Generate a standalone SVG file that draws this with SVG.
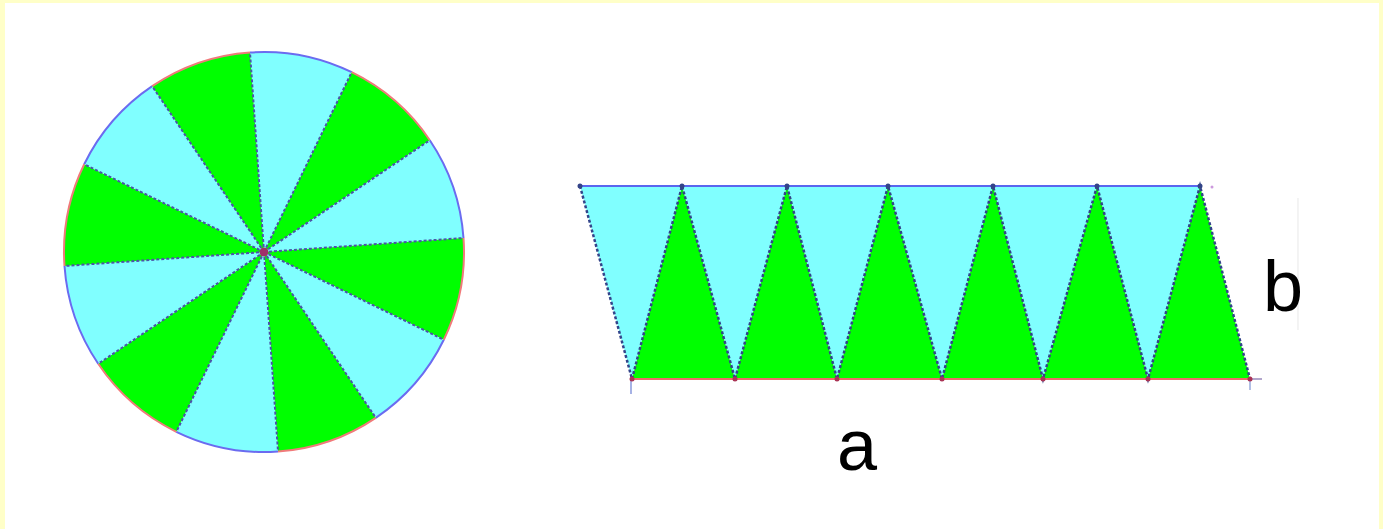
<svg xmlns="http://www.w3.org/2000/svg" width="1383" height="529" viewBox="0 0 1383 529">
<style>
.cy{fill:#80ffff}
.gr{fill:#00ff00}
.rad{stroke:#4a55a8;stroke-width:2;stroke-dasharray:3 2;fill:none}
.arcb{stroke:#6b6bf0;stroke-width:2;fill:none}
.arcr{stroke:#f07a7a;stroke-width:2;fill:none}
.edge{stroke:#33448a;stroke-width:2.5;stroke-dasharray:3 2;fill:none}
.top{stroke:#5a66ee;stroke-width:2.2;fill:none}
.bot{stroke:#ee6a6a;stroke-width:2.2;fill:none}
.lbl{font-family:"Liberation Sans",Arial,sans-serif;font-size:72px;fill:#000}
</style>
<rect x="0" y="0" width="1383" height="529" fill="#ffffc8"/>
<rect x="5" y="3" width="1374" height="526" fill="#ffffff"/>
<g id="circle">
<path class="cy" d="M264 252 L250.0 52.5 A200 200 0 0 1 351.7 72.2 Z"/>
<path class="gr" d="M264 252 L351.7 72.2 A200 200 0 0 1 429.8 140.2 Z"/>
<path class="cy" d="M264 252 L429.8 140.2 A200 200 0 0 1 463.5 238.0 Z"/>
<path class="gr" d="M264 252 L463.5 238.0 A200 200 0 0 1 443.8 339.7 Z"/>
<path class="cy" d="M264 252 L443.8 339.7 A200 200 0 0 1 375.8 417.8 Z"/>
<path class="gr" d="M264 252 L375.8 417.8 A200 200 0 0 1 278.0 451.5 Z"/>
<path class="cy" d="M264 252 L278.0 451.5 A200 200 0 0 1 176.3 431.8 Z"/>
<path class="gr" d="M264 252 L176.3 431.8 A200 200 0 0 1 98.2 363.8 Z"/>
<path class="cy" d="M264 252 L98.2 363.8 A200 200 0 0 1 64.5 266.0 Z"/>
<path class="gr" d="M264 252 L64.5 266.0 A200 200 0 0 1 84.2 164.3 Z"/>
<path class="cy" d="M264 252 L84.2 164.3 A200 200 0 0 1 152.2 86.2 Z"/>
<path class="gr" d="M264 252 L152.2 86.2 A200 200 0 0 1 250.0 52.5 Z"/>
<path class="arcb" d="M250.0 52.5 A200 200 0 0 1 351.7 72.2 M429.8 140.2 A200 200 0 0 1 463.5 238.0 M443.8 339.7 A200 200 0 0 1 375.8 417.8 M278.0 451.5 A200 200 0 0 1 176.3 431.8 M98.2 363.8 A200 200 0 0 1 64.5 266.0 M84.2 164.3 A200 200 0 0 1 152.2 86.2"/>
<path class="arcr" d="M351.7 72.2 A200 200 0 0 1 429.8 140.2 M463.5 238.0 A200 200 0 0 1 443.8 339.7 M375.8 417.8 A200 200 0 0 1 278.0 451.5 M176.3 431.8 A200 200 0 0 1 98.2 363.8 M64.5 266.0 A200 200 0 0 1 84.2 164.3 M152.2 86.2 A200 200 0 0 1 250.0 52.5"/>
<path class="rad" d="M264 252 L250.0 52.5 M264 252 L351.7 72.2 M264 252 L429.8 140.2 M264 252 L463.5 238.0 M264 252 L443.8 339.7 M264 252 L375.8 417.8 M264 252 L278.0 451.5 M264 252 L176.3 431.8 M264 252 L98.2 363.8 M264 252 L64.5 266.0 M264 252 L84.2 164.3 M264 252 L152.2 86.2"/>
<circle cx="264" cy="252" r="4.5" fill="#a0306a"/>
</g>
<g id="strip">
<polygon class="cy" points="580,186 682,186 632,379"/>
<polygon class="cy" points="682,186 787,186 735,379"/>
<polygon class="cy" points="787,186 888,186 837,379"/>
<polygon class="cy" points="888,186 993,186 942,379"/>
<polygon class="cy" points="993,186 1097,186 1043,379"/>
<polygon class="cy" points="1097,186 1200,186 1148,379"/>
<polygon class="gr" points="632,379 735,379 682,186"/>
<polygon class="gr" points="735,379 837,379 787,186"/>
<polygon class="gr" points="837,379 942,379 888,186"/>
<polygon class="gr" points="942,379 1043,379 993,186"/>
<polygon class="gr" points="1043,379 1148,379 1097,186"/>
<polygon class="gr" points="1148,379 1250,379 1200,186"/>
<path class="top" d="M580 186 L1200 186"/>
<path class="bot" d="M632 379 L1250 379"/>
<path class="edge" d="M580 186 L632 379 L682 186 L735 379 L787 186 L837 379 L888 186 L942 379 L993 186 L1043 379 L1097 186 L1148 379 L1200 186 L1250 379"/>
<path d="M631 380 L631 394" stroke="#8899dd" stroke-width="1.5"/>
<path d="M1250 379 L1262 379" stroke="#9988bb" stroke-width="1.5"/>
<path d="M1250 379 L1250 390" stroke="#99aadd" stroke-width="1.5"/>
<circle cx="1212" cy="187" r="1.5" fill="#cc99dd"/>
<g fill="#334488">
<circle cx="580" cy="186" r="2.5"/><circle cx="682" cy="186" r="2.5"/><circle cx="787" cy="186" r="2.5"/><circle cx="888" cy="186" r="2.5"/><circle cx="993" cy="186" r="2.5"/><circle cx="1097" cy="186" r="2.5"/><circle cx="1200" cy="186" r="2.5"/>
</g>
<g fill="#aa3355">
<circle cx="632" cy="379" r="2.5"/><circle cx="735" cy="379" r="2.5"/><circle cx="837" cy="379" r="2.5"/><circle cx="942" cy="379" r="2.5"/><circle cx="1043" cy="379" r="2.5"/><circle cx="1148" cy="379" r="2.5"/><circle cx="1250" cy="379" r="2.5"/>
</g>
<path d="M1298 198 L1298 330" stroke="#ececec" stroke-width="1.2"/>
</g>
<g id="labels">
<text class="lbl" x="857" y="470" text-anchor="middle">a</text>
<text class="lbl" x="1263" y="311">b</text>
</g>
</svg>
